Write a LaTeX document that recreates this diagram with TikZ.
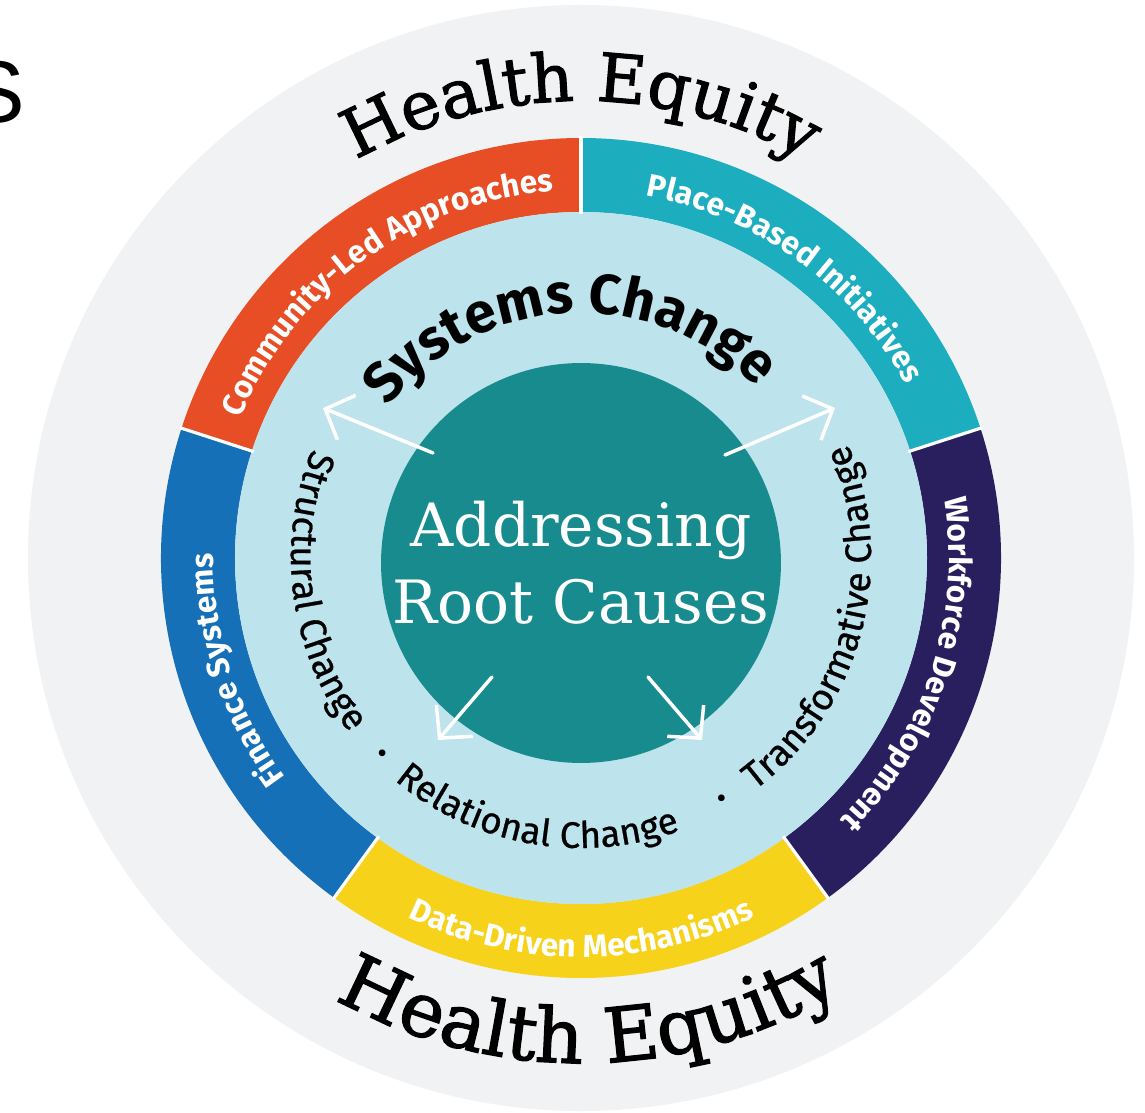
\documentclass[tikz,border=0pt]{standalone}
\usepackage{fontspec}
\usetikzlibrary{arrows.meta, decorations.text}
\newfontfamily\slabfont{DejaVu Serif}
\newfontfamily\slabheavy[FakeBold=1.6]{DejaVu Serif}
\newfontfamily\dinfont{Fira Sans}
\newfontfamily\dinmed[FakeBold=0.7]{Fira Sans}
\newfontfamily\arialfont{Liberation Sans}
\definecolor{haze}{HTML}{F1F2F3}
\definecolor{paleblue}{HTML}{BDE3EC}
\definecolor{coreteal}{HTML}{178B8E}
\definecolor{segorange}{HTML}{E84E26}
\definecolor{segteal}{HTML}{1CAEBE}
\definecolor{segpurple}{HTML}{2A1F5E}
\definecolor{segyellow}{HTML}{F6D21B}
\definecolor{segblue}{HTML}{1570B8}
\tikzset{
  sepline/.style = {white, line width=1.8pt},
  arw/.style     = {white, line width=2pt, line cap=round,
                    -{Straight Barb[length=4.6mm, width=9.6mm]}},
  ringtxt/.style = {decorate, decoration={text along path, text align=center,
                    text color=white,
                    text={|\dinfont\bfseries\fontsize{18}{18}\selectfont|#1}}},
  midtxt/.style  = {decorate, decoration={text along path, text align=center,
                    text={|\dinmed\fontsize{21}{21}\selectfont|#1}}},
  bigtxt/.style  = {decorate, decoration={text along path, text align=center,
                    text={|\dinfont\bfseries\fontsize{32}{32}\selectfont|#1}}},
  eqtxt/.style   = {decorate, decoration={text along path, text align=center,
                    text={|\slabheavy\fontsize{#1}{#1}\selectfont|Health Equity}}},
  dotmark/.style = {font=\dinfont\fontsize{17}{17}\selectfont, inner sep=0pt},
}
\begin{document}
\begin{tikzpicture}[x=0.02cm, y=0.02cm]
  \useasboundingbox (-581,-554) rectangle (564,558);
  \fill[white] (-581,-554) rectangle (564,558);
  \node[anchor=base east, inner sep=0pt, font=\arialfont\fontsize{50}{50}\selectfont] (ess) at (-556,435) {S};
  \fill[haze] (0,0) circle (553);
  \foreach \a/\c in {90/segorange, 18/segteal, -54/segpurple, -126/segyellow, 162/segblue}{
    \fill[\c] (\a:346) arc[start angle=\a, end angle=\a+72, radius=346]
      -- (\a+72:420) arc[start angle=\a+72, end angle=\a, radius=420] -- cycle;
  }
  \fill[paleblue] (0,0) circle (346);
  \foreach \a in {18, 90, 162, 234, 306}{
    \draw[sepline] (\a:344) -- (\a:422);
  }
  \path[ringtxt={Community-Led Approaches}] (162:368) arc[start angle=162, end angle=90, radius=368];
  \path[ringtxt={Place-Based Initiatives}] (90:368) arc[start angle=90, end angle=18, radius=368];
  \path[ringtxt={Workforce Development}] (18:368) arc[start angle=18, end angle=-54, radius=368];
  \path[ringtxt={Data-Driven Mechanisms}] (234:399) arc[start angle=234, end angle=306, radius=399];
  \path[ringtxt={Finance Systems}] (234:368) arc[start angle=234, end angle=162, radius=368];
  \path[eqtxt=38] (150:457) arc[start angle=150, end angle=30, radius=457];
  \path[eqtxt=43] (210:505) arc[start angle=210, end angle=332, radius=505];
  \path[bigtxt={Systems Change}] (168:245) arc[start angle=168, end angle=18, radius=245];
  \path[midtxt={Structural Change}] (147:290) arc[start angle=147, end angle=228, radius=290];
  \path[midtxt={Relational Change}] (220:290) arc[start angle=220, end angle=300, radius=290];
  \path[midtxt={Transformative Change}] (300:290) arc[start angle=300, end angle=390, radius=290];
  \node[dotmark] (dotl) at (225:281) {•};
  \node[dotmark] (dotr) at (300:281) {•};
  \node[circle, fill=coreteal, minimum size=8cm, inner sep=0pt, text=white, align=center,
        font=\slabfont\fontsize{34}{44}\selectfont] (core) at (0,-5) {Addressing\\Root Causes};
  \coordinate (ulA) at (-148,105);
  \coordinate (ulB) at (-258,150);
  \coordinate (urA) at (144,103);
  \coordinate (urB) at (254,150);
  \coordinate (llA) at (-89,-119);
  \coordinate (llB) at (-143,-182);
  \coordinate (lrA) at (67,-119);
  \coordinate (lrB) at (121,-182);
  \draw[arw] (ulA) -- (ulB);
  \draw[arw] (urA) -- (urB);
  \draw[arw] (llA) -- (llB);
  \draw[arw] (lrA) -- (lrB);
\end{tikzpicture}
\end{document}
